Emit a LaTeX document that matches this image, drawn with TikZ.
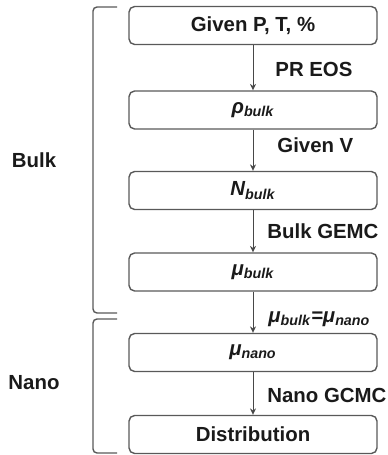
\documentclass[tikz,border=0pt]{standalone}
\usepackage{fontspec}
\setmainfont{Liberation Sans}
\usetikzlibrary{arrows.meta}
\definecolor{boxgray}{HTML}{595959}
\definecolor{txt}{HTML}{1A1A1A}
\begin{document}
\begin{tikzpicture}[x=0.5pt,y=-0.5pt,
  every node/.style={text=txt, font=\fontsize{10.2}{12}\selectfont\bfseries},
  stepbox/.style={draw=boxgray, line width=0.7pt, rounded corners=2.8pt,
    minimum width=124pt, minimum height=19pt, inner sep=0pt},
  flow/.style={draw=boxgray!80!black, line width=0.5pt, -{Stealth[length=3.2pt,width=3pt]}},
  brk/.style={draw=boxgray, line width=0.7pt, rounded corners=2pt},
  lbl/.style={anchor=west, inner sep=0pt}]
\useasboundingbox (0,0) rectangle (387,455);
\node[stepbox] (b1) at (253,25.5) {Given P, T, \%};
\node[stepbox] (b2) at (253,110) {\itshape ρ\textsubscript{bulk}};
\node[stepbox] (b3) at (253,190.5) {\itshape N\textsubscript{bulk}};
\node[stepbox] (b4) at (253,272) {\itshape μ\textsubscript{bulk}};
\node[stepbox] (b5) at (253,352.5) {\itshape μ\textsubscript{nano}};
\node[stepbox] (b6) at (253,434.5) {Distribution};
\draw[flow] (b1) -- (b2);
\draw[flow] (b2) -- (b3);
\draw[flow] (b3) -- (b4);
\draw[flow] (b4) -- (b5);
\draw[flow] (b5) -- (b6);
\node[lbl] (l1) at (275,69) {PR EOS};
\node[lbl] (l2) at (277,145) {Given V};
\node[lbl] (l3) at (267,231) {Bulk GEMC};
\node[lbl] (l4) at (268,319) {\itshape μ\textsubscript{bulk}=μ\textsubscript{nano}};
\node[lbl] (l5) at (267,395) {Nano GCMC};
\draw[brk] (117,7) -- (93,7) -- (93,313) -- (117,313);
\draw[brk] (117,319) -- (93,319) -- (93,453) -- (117,453);
\node (bulk) at (34,160) {Bulk};
\node (nano) at (34,383) {Nano};
\end{tikzpicture}
\end{document}
